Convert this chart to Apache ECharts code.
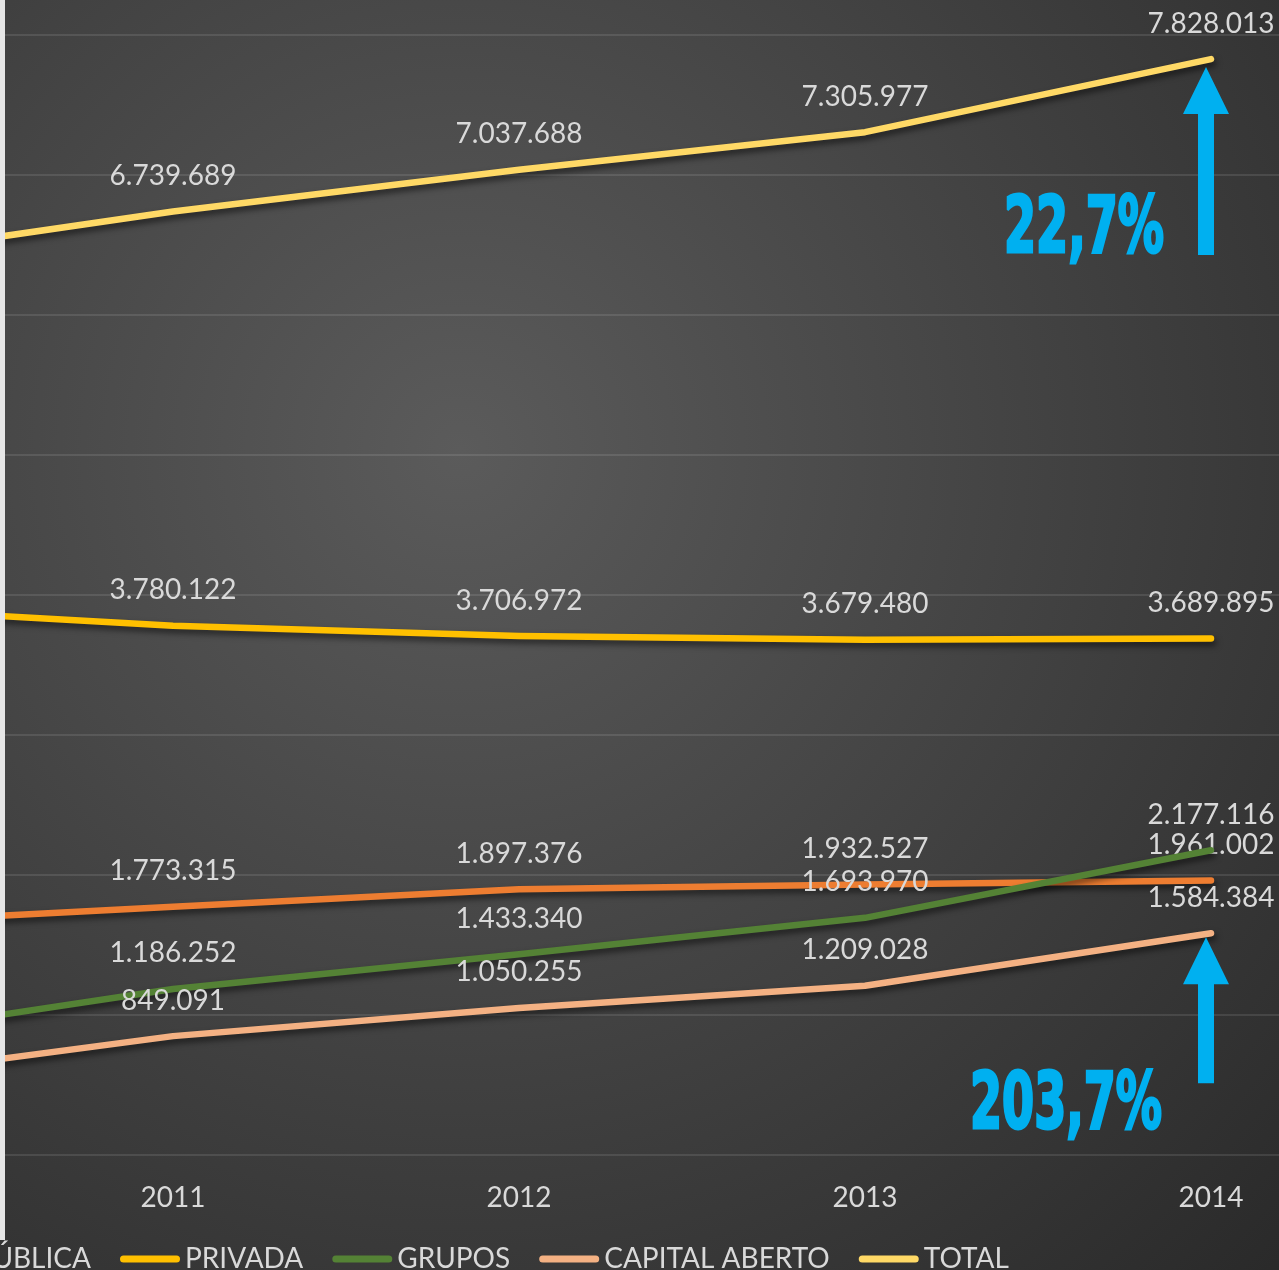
<!DOCTYPE html>
<html>
<head>
<meta charset="utf-8">
<title>Empresas 2010-2014</title>
<script src="https://cdn.jsdelivr.net/npm/echarts@6/dist/echarts.min.js"></script>
<style>
html,body{margin:0;padding:0;background:#282828;}
#chart{width:1279px;height:1270px;background:radial-gradient(circle 1200px at 460px 450px,#5b5b5b 0%,#282828 100%);}
</style>
</head>
<body>
<div id="chart"></div>
<script>
// 2010 fica fora do recorte, só se vê o início das linhas
var years = ['2010','2011','2012','2013','2014'];
var publica = [1645000, 1773315, 1897376, 1932527, 1961002];
var privada = [3920000, 3780122, 3706972, 3679480, 3689895];
var grupos = [815000, 1186252, 1433340, 1693970, 2177116];
var capitalAberto = [521694, 849091, 1050255, 1209028, 1584384];
var total = [6380000, 6739689, 7037688, 7305977, 7828013];
var seriesNames = ['PÚBLICA','PRIVADA','GRUPOS','CAPITAL ABERTO','TOTAL'];
var growthTotal = '22,7%';
var growthCapital = '203,7%';

var colors = ['#ED7D31','#FFC000','#548235','#F4B183','#FFD966'];
var textColor = '#d9d9d9';
var font = 'Lato, "Open Sans", sans-serif';
var bigFont = 'bold 78px "Liberation Sans Narrow", "DejaVu Sans Condensed", sans-serif';
var blue = '#00B0F0';

function fmt(v){
	return String(v).replace(/\B(?=(\d{3})+(?!\d))/g, '.');
}
function textWidth(txt, f){
	var ctx = document.createElement('canvas').getContext('2d');
	ctx.font = f;
	return ctx.measureText(txt).width;
}

var chart = echarts.init(document.getElementById('chart'));
var allData = [publica, privada, grupos, capitalAberto, total];
var series = [];
for (var i = 0; i < allData.length; i++) {
	series.push({
		name: seriesNames[i],
		type: 'line',
		data: allData[i],
		symbol: 'circle',
		symbolSize: 1,
		showSymbol: true,
		z: 2 + i,
		lineStyle: {
			width: 6.5,
			color: colors[i],
			cap: 'round',
			join: 'round',
			shadowColor: 'rgba(0,0,0,0.55)',
			shadowBlur: 6,
			shadowOffsetX: 2,
			shadowOffsetY: 4
		},
		itemStyle: {color: colors[i]},
		label: {
			show: true,
			position: 'top',
			distance: 21,
			color: textColor,
			fontSize: 28,
			fontFamily: font,
			formatter: function(p){ return fmt(p.value); }
		},
		emphasis: {disabled: true}
	});
}

// legenda começa cortada à esquerda (PÚBLICA)
var legendGap = 29;
var legendLeft = 120 - legendGap - textWidth('PÚBLICA', '28px ' + font) - 5 - 60;

var option = {
	animation: false,
	grid: {
		left: -346,
		right: -105,
		top: 35,
		bottom: 115,
		containLabel: false,
		outerBoundsMode: 'none'
	},
	legend: {
		data: seriesNames,
		left: legendLeft,
		top: 1245,
		padding: 0,
		itemGap: legendGap,
		itemWidth: 60,
		itemHeight: 7,
		icon: 'path://M3.5,0 L56.5,0 A3.5,3.5 0 0 1 56.5,7 L3.5,7 A3.5,3.5 0 0 1 3.5,0 Z',
		textStyle: {color: textColor, fontSize: 28, fontFamily: font}
	},
	xAxis: {
		type: 'category',
		data: years,
		boundaryGap: true,
		axisLine: {show: false},
		axisTick: {show: false},
		axisLabel: {color: textColor, fontSize: 28, fontFamily: font, margin: 29}
	},
	yAxis: {
		type: 'value',
		min: 0,
		max: 8000000,
		interval: 1000000,
		axisLabel: {show: false},
		axisLine: {show: false},
		axisTick: {show: false},
		splitLine: {lineStyle: {color: 'rgba(255,255,255,0.1)', width: 2}}
	},
	series: series
};
chart.setOption(option);

// setas e percentagens de crescimento
function arrow(tipX, tipY, bottom){
	return {
		type: 'polygon',
		z: 20,
		shape: {points: [
			[tipX, tipY], [tipX + 23, tipY + 47], [tipX + 8, tipY + 47], [tipX + 8, bottom],
			[tipX - 8, bottom], [tipX - 8, tipY + 47], [tipX - 23, tipY + 47]
		]},
		style: {fill: blue}
	};
}
function bigText(txt, right, cy, w){
	return {
		type: 'text',
		z: 20,
		x: right,
		y: cy,
		scaleX: w / (textWidth(txt, bigFont) + 3),
		style: {
			text: txt,
			fill: blue,
			stroke: blue,
			lineWidth: 3,
			font: bigFont,
			textAlign: 'right',
			verticalAlign: 'middle',
			shadowColor: 'rgba(0,0,0,0.75)',
			shadowBlur: 5,
			shadowOffsetX: 3,
			shadowOffsetY: 3
		}
	};
}
var pTot = chart.convertToPixel({seriesIndex: 4}, [4, total[4]]);
var pCap = chart.convertToPixel({seriesIndex: 3}, [4, capitalAberto[4]]);
chart.setOption({
	graphic: [
		{type: 'rect', z: 30, shape: {x: 0, y: 0, width: 5, height: 1240}, style: {fill: '#e6e6e6'}},
		arrow(pTot[0] - 5, pTot[1] + 8, pTot[1] + 196),
		arrow(pCap[0] - 5, pCap[1] + 4, pCap[1] + 150),
		bigText(growthTotal, 1164, 232, 162),
		bigText(growthCapital, 1162, 1108, 194)
	]
});
</script>
</body>
</html>
